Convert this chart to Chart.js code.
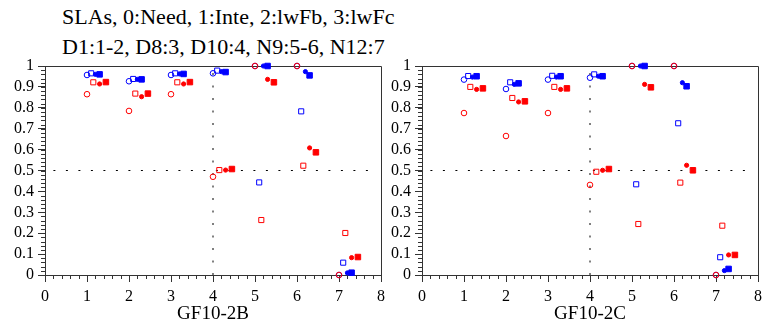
<!DOCTYPE html>
<html>
<head>
<meta charset="utf-8">
<script src="https://cdn.jsdelivr.net/npm/chart.js@4"></script>
<style>
  body { margin: 0; background: #fff; width: 763px; height: 332px; position: relative; overflow: hidden; }
  #title { position: absolute; left: 62px; top: 2px; font: 22px "Liberation Serif", serif; line-height: 30px; color: #000; }
  canvas { position: absolute; top: 0; }
  #left { left: 0; }
  #right { left: 377px; }
</style>
</head>
<body>
<div id="title">SLAs, 0:Need, 1:Inte, 2:lwFb, 3:lwFc<br>D1:1-2, D8:3, D10:4, N9:5-6, N12:7</div>
<canvas id="left" width="390" height="332"></canvas>
<canvas id="right" width="390" height="332"></canvas>
<script>
// categories (group positions on the x axis)
const categories = [1, 2, 3, 4, 5, 6, 7];
const xTicks = [0, 1, 2, 3, 4, 5, 6, 7, 8];
const yTicks = [0, 0.1, 0.2, 0.3, 0.4, 0.5, 0.6, 0.7, 0.8, 0.9, 1];
const metrics = ['Need', 'Inte', 'lwFb', 'lwFc'];

// small shift of each metric inside a group
const blueShift = [0, 0.1, 0.2, 0.3];
const redShift = [0, 0.15, 0.3, 0.45];

// GF10-2B
const b_red_need = [0.865, 0.785, 0.865, 0.470, 1.0, 1.0, 0.0];
const b_red_inte = [0.922, 0.868, 0.922, 0.502, 0.263, 0.523, 0.201];
const b_red_lwfb = [0.914, 0.853, 0.914, 0.502, 0.936, 0.608, 0.083];
const b_red_lwfc = [0.923, 0.868, 0.923, 0.507, 0.922, 0.587, 0.086];
const b_blue_need = [0.957, 0.927, 0.957, 0.965, 1.0, 1.0, 0.0];
const b_blue_inte = [0.965, 0.938, 0.965, 0.978, 0.443, 0.783, 0.059];
const b_blue_lwfb = [0.960, 0.936, 0.962, 0.973, 1.0, 0.973, 0.010];
const b_blue_lwfc = [0.960, 0.936, 0.962, 0.971, 1.0, 0.955, 0.011];

// GF10-2C
const c_red_need = [0.775, 0.665, 0.775, 0.431, 1.0, 1.0, 0.0];
const c_red_inte = [0.900, 0.847, 0.900, 0.494, 0.244, 0.442, 0.236];
const c_red_lwfb = [0.888, 0.828, 0.888, 0.501, 0.912, 0.525, 0.096];
const c_red_lwfc = [0.893, 0.831, 0.893, 0.507, 0.898, 0.501, 0.096];
const c_blue_need = [0.935, 0.890, 0.935, 0.944, 1.0, 1.0, 0.0];
const c_blue_inte = [0.952, 0.922, 0.953, 0.960, 0.434, 0.726, 0.085];
const c_blue_lwfb = [0.947, 0.912, 0.947, 0.951, 1.0, 0.920, 0.021];
const c_blue_lwfc = [0.951, 0.917, 0.951, 0.951, 1.0, 0.903, 0.029];

// dotted guides
const guideY = 0.5;
const guideYFrom = 0.2, guideYTo = 7.85;
const guideX = 4;

const AXIS = '#333';
const FONT = '"Liberation Serif", "Times New Roman", serif';

// marker look per metric: open circle, open square, dot, filled square
const markStyle = [
  { pointStyle: 'circle', radius: 2.8, filled: false },
  { pointStyle: 'rect', radius: 3.6, filled: false },
  { pointStyle: 'circle', radius: 2.1, filled: true },
  { pointStyle: 'rect', radius: 3.9, filled: true }
];

function series(values, shift, color, m) {
  const s = markStyle[m];
  return {
    type: 'scatter',
    label: metrics[m],
    data: categories.map((c, i) => ({ x: c + shift[m], y: values[i] })),
    pointStyle: s.pointStyle,
    pointRadius: s.radius,
    borderWidth: 1,
    borderColor: color,
    backgroundColor: s.filled ? color : 'rgba(0,0,0,0)',
    clip: false
  };
}

function guide(points) {
  return {
    type: 'line',
    data: points,
    borderColor: '#000',
    borderWidth: 1,
    borderDash: [2, 10.5],
    pointRadius: 0,
    fill: false,
    clip: false
  };
}

// frame on top/right, minor ticks on both axes
const framePlugin = {
  id: 'frame',
  beforeDatasetsDraw(chart) {
    const { ctx, chartArea: a, scales: { x, y } } = chart;
    ctx.save();
    ctx.strokeStyle = AXIS;
    ctx.lineWidth = 1;
    ctx.beginPath();
    ctx.moveTo(a.left, Math.round(a.top) + 0.5);
    ctx.lineTo(Math.round(a.right) + 0.5, Math.round(a.top) + 0.5);
    ctx.lineTo(Math.round(a.right) + 0.5, a.bottom);
    for (let i = 0; i <= 40; i++) {
      const px = Math.round(x.getPixelForValue(i * 0.2)) + 0.5;
      ctx.moveTo(px, a.bottom);
      ctx.lineTo(px, a.bottom + 4);
    }
    for (let i = 0; i <= 50; i++) {
      const py = Math.round(y.getPixelForValue(i * 0.02)) + 0.5;
      ctx.moveTo(a.left - 4, py);
      ctx.lineTo(a.left, py);
    }
    ctx.stroke();
    ctx.restore();
  }
};

function makeChart(id, name, red, blue) {
  // first dataset ends up on top, so red goes in before blue
  const datasets = [];
  red.forEach((v, m) => datasets.push(series(v, redShift, '#ff0000', m)));
  blue.forEach((v, m) => datasets.push(series(v, blueShift, '#0000ff', m)));
  datasets.push(guide([{ x: guideYFrom, y: guideY }, { x: guideYTo, y: guideY }]));
  datasets.push(guide([{ x: guideX, y: 0 }, { x: guideX, y: 1 }]));

  return new Chart(document.getElementById(id), {
    data: { datasets },
    plugins: [framePlugin],
    options: {
      responsive: false,
      animation: false,
      layout: { padding: { top: 66, right: 0, left: 0, bottom: 0 } },
      plugins: { legend: { display: false }, tooltip: { enabled: false } },
      scales: {
        x: {
          type: 'linear', min: 0, max: 8,
          afterBuildTicks: s => { s.ticks = xTicks.map(v => ({ value: v })); },
          afterFit: s => { s.height = 57; },
          grid: { drawOnChartArea: false, tickLength: 7, color: AXIS },
          border: { color: AXIS },
          ticks: { color: '#000', font: { family: FONT, size: 16 }, padding: 5, maxRotation: 0, autoSkip: false },
          title: { display: true, text: name, color: '#000', font: { family: FONT, size: 19 }, padding: { top: 0, bottom: 7 } }
        },
        y: {
          type: 'linear', min: 0, max: 1,
          afterBuildTicks: s => { s.ticks = yTicks.map(v => ({ value: v })); },
          afterFit: s => { s.width = 45; },
          grid: { drawOnChartArea: false, tickLength: 7, color: AXIS },
          border: { color: AXIS },
          ticks: { color: '#000', font: { family: FONT, size: 16 }, padding: 4, autoSkip: false, callback: v => String(Math.round(v * 10) / 10) }
        }
      }
    }
  });
}

makeChart('left', 'GF10-2B',
  [b_red_need, b_red_inte, b_red_lwfb, b_red_lwfc],
  [b_blue_need, b_blue_inte, b_blue_lwfb, b_blue_lwfc]);
makeChart('right', 'GF10-2C',
  [c_red_need, c_red_inte, c_red_lwfb, c_red_lwfc],
  [c_blue_need, c_blue_inte, c_blue_lwfb, c_blue_lwfc]);
</script>
</body>
</html>
